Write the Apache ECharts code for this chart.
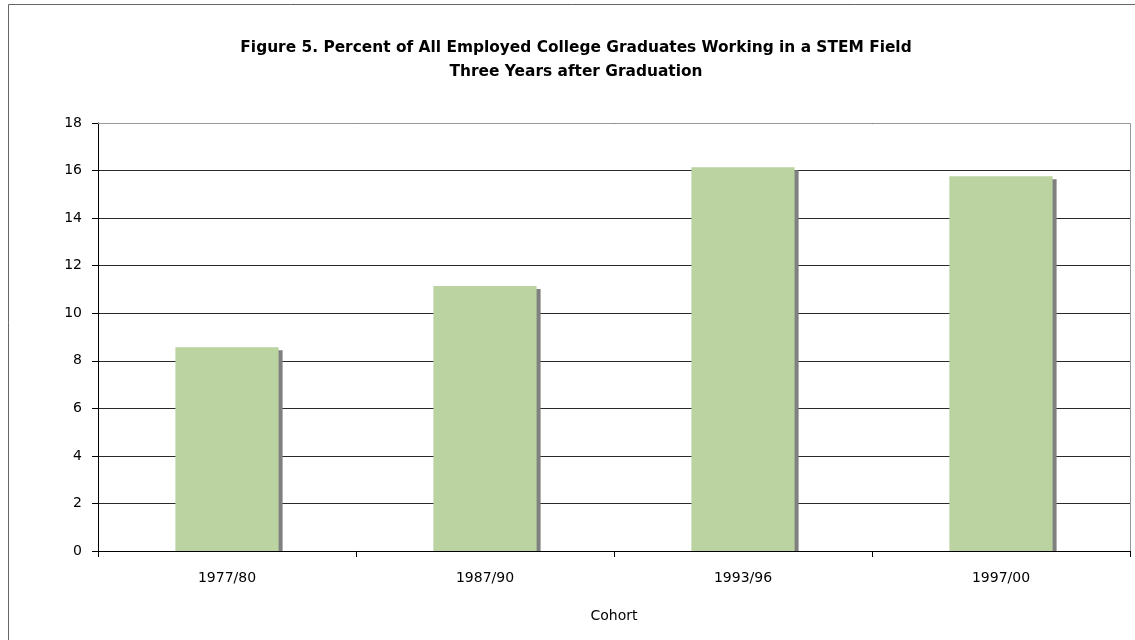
<!DOCTYPE html>
<html>
<head>
<meta charset="utf-8">
<script src="https://cdn.jsdelivr.net/npm/echarts@6/dist/echarts.min.js"></script>
<style>html,body{margin:0;padding:0;background:#fff;}#c{width:1135px;height:640px;}</style>
</head>
<body>
<div id="c"></div>
<script>
const categories = ['1977/80', '1987/90', '1993/96', '1997/00'];
const values = [8.57, 11.14, 16.14, 15.76];
const titleText = 'Figure 5. Percent of All Employed College Graduates Working in a STEM Field\nThree Years after Graduation';
const xAxisName = 'Cohort';

const chart = echarts.init(document.getElementById('c'), null, {renderer: 'canvas'});
const font = '"DejaVu Sans", Verdana, sans-serif';
chart.setOption({
  backgroundColor: '#fff',
  animation: false,
  title: {
    text: titleText,
    left: 571, top: 31, textAlign: 'center',
    textStyle: {fontFamily: font, fontSize: 15.4, fontWeight: 'bold', color: '#000', lineHeight: 24}
  },
  graphic: [{
    type: 'rect', silent: true, z: -1,
    shape: {x: 8.5, y: 4.5, width: 1200, height: 700},
    style: {fill: 'none', stroke: '#666', lineWidth: 1}
  }, {
    type: 'line', silent: true, z: 100,
    shape: {x1: 98, y1: 123.5, x2: 1130.5, y2: 123.5},
    style: {stroke: '#999', lineWidth: 1}
  }, {
    type: 'line', silent: true, z: 100,
    shape: {x1: 1130.5, y1: 123.5, x2: 1130.5, y2: 551},
    style: {stroke: '#999', lineWidth: 1}
  }, {
    type: 'rect', silent: true, z: 5,
    shape: {x: 99, y: 552, width: 1031, height: 6},
    style: {fill: '#fff'}
  }],
  grid: {left: 98, top: 123, right: 5, bottom: 89, containLabel: false},
  xAxis: {
    type: 'category', data: categories, z: 10,
    name: xAxisName, nameLocation: 'middle', nameGap: 58,
    nameTextStyle: {fontFamily: font, fontSize: 14, color: '#000'},
    axisLine: {lineStyle: {color: '#000', width: 1}},
    axisTick: {show: true, length: 6, lineStyle: {color: '#000'}},
    axisLabel: {fontFamily: font, fontSize: 14, color: '#000', margin: 20},
    splitLine: {show: false}
  },
  yAxis: {
    type: 'value', min: 0, max: 18, interval: 2,
    axisLine: {show: true, lineStyle: {color: '#000', width: 1}},
    axisTick: {show: true, length: 6, lineStyle: {color: '#000'}},
    axisLabel: {fontFamily: font, fontSize: 14, color: '#000', margin: 16},
    splitLine: {show: true, lineStyle: {color: '#2a2a2a', width: 1}}
  },
  series: [{
    type: 'bar', data: values, barWidth: '40%',
    itemStyle: {color: '#BAD3A0', shadowColor: '#808080', shadowBlur: 0, shadowOffsetX: 4, shadowOffsetY: 3},
    z: 3
  }]
});
</script>
</body>
</html>
